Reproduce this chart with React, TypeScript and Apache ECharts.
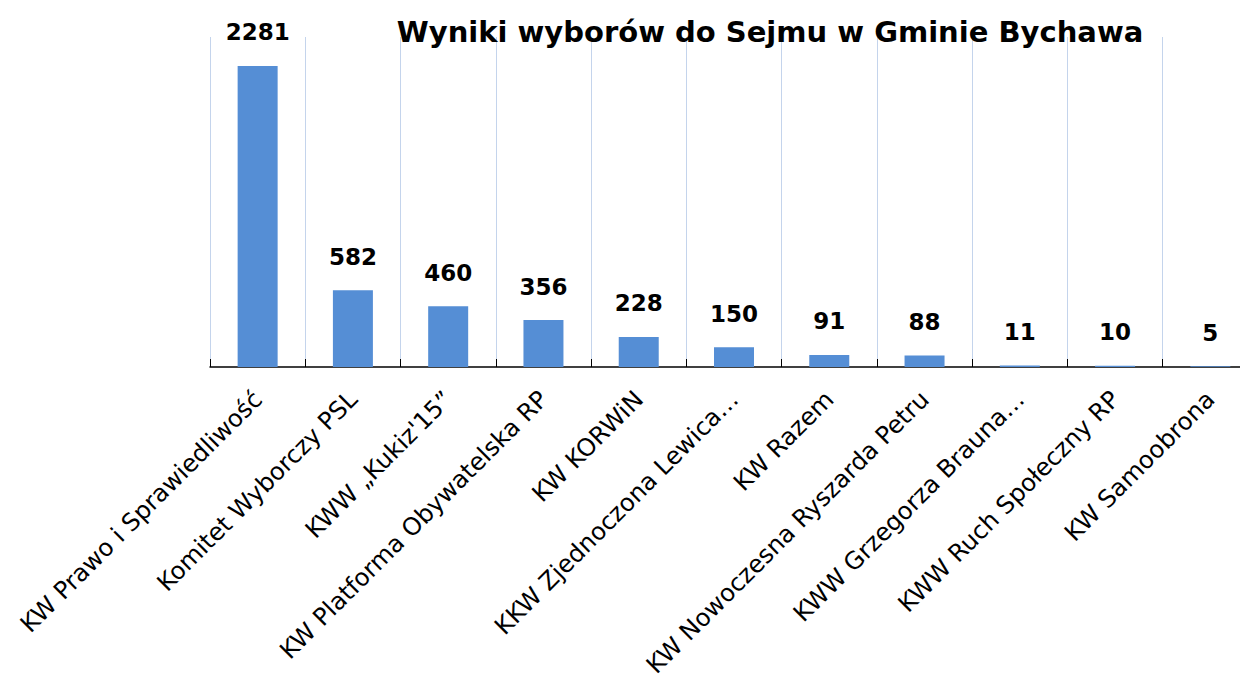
import React, { useEffect, useRef } from "react";
import * as echarts from "echarts";

const categories = [
  "KW Prawo i Sprawiedliwość",
  "Komitet Wyborczy PSL",
  "KWW „Kukiz'15”",
  "KW Platforma Obywatelska RP",
  "KW KORWiN",
  "KKW Zjednoczona Lewica…",
  "KW Razem",
  "KW Nowoczesna Ryszarda Petru",
  "KWW Grzegorza Brauna…",
  "KWW Ruch Społeczny RP",
  "KW Samoobrona",
];
const votes = [2281, 582, 460, 356, 228, 150, 91, 88, 11, 10, 5];
const titleText = "Wyniki wyborów do Sejmu w Gminie Bychawa";

export default function App() {
  const ref = useRef<HTMLDivElement>(null);
  useEffect(() => {
    if (!ref.current) return;
    const chart = echarts.init(ref.current, null, { renderer: "svg" });
    chart.setOption({
      animation: false,
      backgroundColor: "#ffffff",
      title: {
        text: titleText,
        left: 757,
        top: 4,
        textAlign: "center",
        textStyle: {
          fontFamily: "DejaVu Sans",
          fontWeight: "bold",
          fontSize: 29,
          color: "#000",
        },
      },
      grid: {
        left: 202,
        top: 29,
        width: 1048,
        height: 330,
        containLabel: false,
        outerBoundsMode: "none",
      },
      xAxis: {
        type: "category",
        data: categories,
        boundaryGap: true,
        axisLine: { show: true, lineStyle: { color: "#000", width: 1.5 } },
        axisTick: { show: true, inside: true, length: 8, lineStyle: { color: "#000" } },
        splitLine: { show: true, lineStyle: { color: "#c4d4ec", width: 1 } },
        axisLabel: {
          rotate: 45,
          interval: 0,
          margin: 28,
          fontFamily: "DejaVu Sans",
          fontSize: 24.3,
          color: "#000",
        },
      },
      yAxis: {
        type: "value",
        min: 0,
        max: 2500,
        show: false,
        splitLine: { show: false },
      },
      series: [
        {
          type: "bar",
          data: votes,
          barWidth: 40,
          itemStyle: { color: "#558ed5" },
          label: {
            show: true,
            position: "top",
            distance: 22,
            fontFamily: "DejaVu Sans",
            fontWeight: "bold",
            fontSize: 23,
            color: "#000",
          },
        },
      ],
    });
    return () => chart.dispose();
  }, []);
  return (
    <div style={{ width: 1240, height: 670, overflow: "hidden" }}>
      <div ref={ref} style={{ width: 1300, height: 670 }} />
    </div>
  );
}
